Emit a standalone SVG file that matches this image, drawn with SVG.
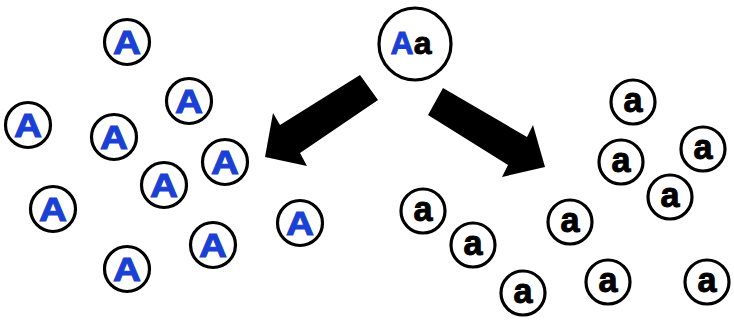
<svg xmlns="http://www.w3.org/2000/svg" width="734" height="320" viewBox="0 0 734 320">
<style>
.c{fill:#fff;stroke:#000;stroke-width:3.2}
.A{font-family:"Liberation Sans",Arial,sans-serif;font-weight:bold;font-size:33px;fill:#1a40d4;stroke:#1a40d4;stroke-width:1;text-anchor:middle}
.a{font-family:"Liberation Sans",Arial,sans-serif;font-weight:bold;font-size:35px;fill:#000;stroke:#000;stroke-width:1;text-anchor:middle}
.arr{fill:#000}
</style>
<defs>
<g id="nA"><circle class="c" cx="0" cy="0" r="22.5"/><text class="A" x="0" y="12" textLength="28" lengthAdjust="spacingAndGlyphs">A</text></g>
<g id="na"><circle class="c" cx="0" cy="0" r="22"/><text class="a" x="0" y="9.5" textLength="19" lengthAdjust="spacingAndGlyphs">a</text></g>
</defs>
<rect width="734" height="320" fill="#fff"/>
<g id="connectors">
<polygon class="arr" points="360,75 378,100 300,153 307,166 265,157 273,113 280,125"/>
<polygon class="arr" points="443,88 527,137 533,125 545,167 502,177 508,165 428,115"/>
</g>
<g id="parent">
<circle class="c" cx="415" cy="44" r="36"/>
<text x="411" y="53.5" font-family="Liberation Sans, Arial, sans-serif" font-weight="bold" font-size="32" stroke-width="0.9" text-anchor="middle"><tspan fill="#1a40d4" stroke="#1a40d4">A</tspan><tspan fill="#000" stroke="#000">a</tspan></text>
</g>
<g id="A1"><use href="#nA" x="127" y="42"/></g>
<g id="A2"><use href="#nA" x="189" y="101"/></g>
<g id="A3"><use href="#nA" x="28" y="125"/></g>
<g id="A4"><use href="#nA" x="114" y="137"/></g>
<g id="A5"><use href="#nA" x="225" y="162"/></g>
<g id="A6"><use href="#nA" x="164" y="185"/></g>
<g id="A7"><use href="#nA" x="53" y="209"/></g>
<g id="A8"><use href="#nA" x="300" y="223"/></g>
<g id="A9"><use href="#nA" x="213" y="245"/></g>
<g id="A10"><use href="#nA" x="127" y="269"/></g>
<g id="a1"><use href="#na" x="633" y="102"/></g>
<g id="a2"><use href="#na" x="621" y="162"/></g>
<g id="a3"><use href="#na" x="703" y="149"/></g>
<g id="a4"><use href="#na" x="670" y="197"/></g>
<g id="a5"><use href="#na" x="423" y="211"/></g>
<g id="a6"><use href="#na" x="473" y="245"/></g>
<g id="a7"><use href="#na" x="570" y="222"/></g>
<g id="a8"><use href="#na" x="523" y="293"/></g>
<g id="a9"><use href="#na" x="608" y="282"/></g>
<g id="a10"><use href="#na" x="707" y="282"/></g>
</svg>
